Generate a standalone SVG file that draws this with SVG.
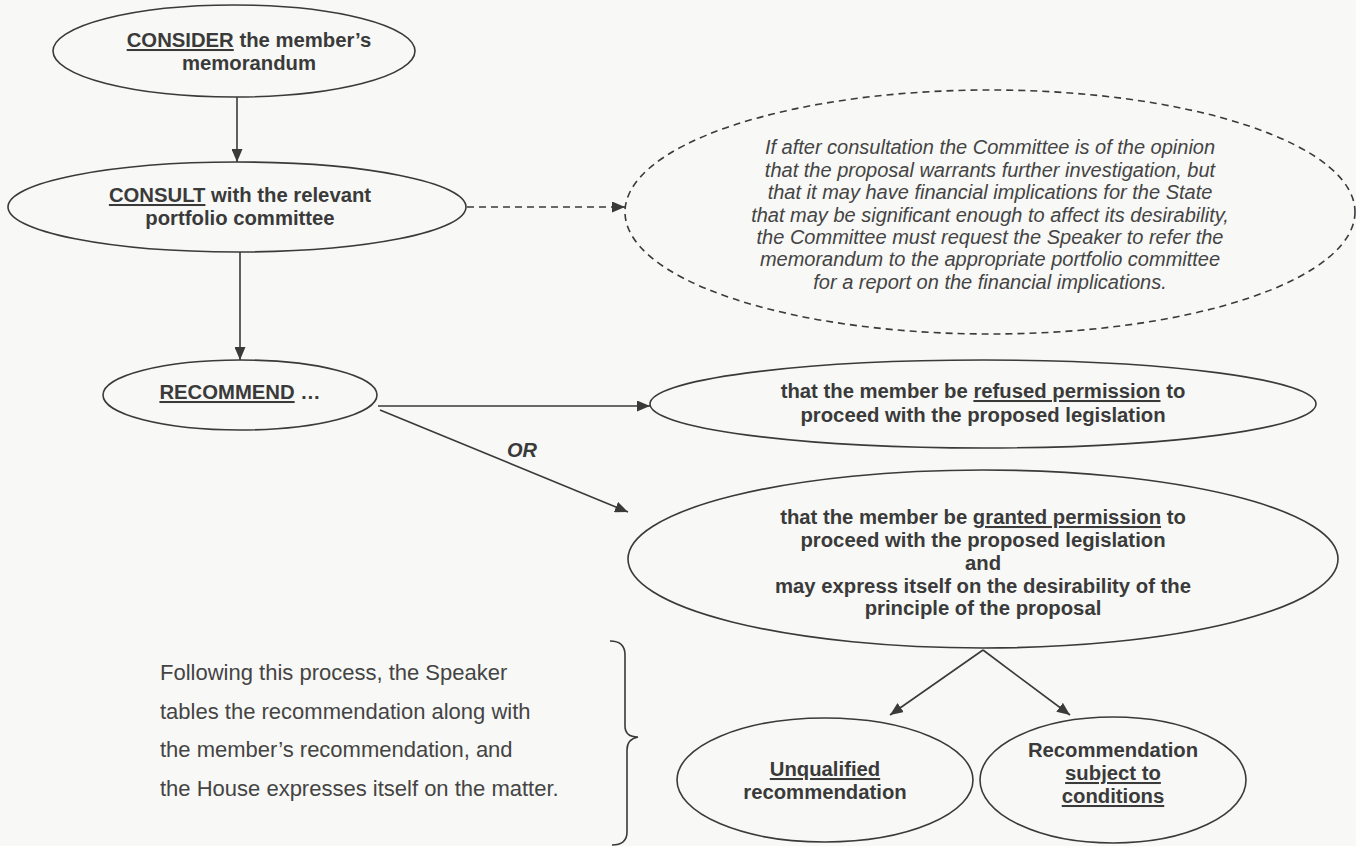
<svg xmlns="http://www.w3.org/2000/svg" width="1356" height="846" viewBox="0 0 1356 846">
<defs>
<style>
.bg{fill:#f8f8f6}
.node{fill:none;stroke:#3a3a3a;stroke-width:1.6}
.dash{fill:none;stroke:#3a3a3a;stroke-width:1.6;stroke-dasharray:7 5}
.b{font-family:"Liberation Sans",Arial,sans-serif;font-weight:bold;font-size:20.3px;fill:#3a3a3a;text-anchor:middle}
.i{font-family:"Liberation Sans",Arial,sans-serif;font-style:italic;font-size:20px;fill:#444;text-anchor:middle}
.p{font-family:"Liberation Sans",Arial,sans-serif;font-size:22px;fill:#444}
.u{text-decoration:underline}
.line{fill:none;stroke:#3a3a3a;stroke-width:1.6}
</style>
<marker id="ah" viewBox="0 0 13 11" refX="13" refY="5.5" markerWidth="13" markerHeight="11" markerUnits="userSpaceOnUse" orient="auto">
<path d="M0,0 L13,5.5 L0,11 Z" fill="#3a3a3a"/>
</marker>
</defs>
<rect class="bg" x="0" y="0" width="1356" height="846"/>

<g id="connectors">
<line class="line" x1="237" y1="97" x2="237" y2="162" marker-end="url(#ah)"/>
<line class="dash" x1="467" y1="207" x2="625" y2="207" marker-end="url(#ah)"/>
<line class="line" x1="240" y1="252" x2="240" y2="360" marker-end="url(#ah)"/>
<line class="line" x1="378" y1="406" x2="650" y2="406" marker-end="url(#ah)"/>
<line class="line" x1="380" y1="410" x2="628" y2="512" marker-end="url(#ah)"/>
<line class="line" x1="983" y1="650" x2="890" y2="715" marker-end="url(#ah)"/>
<line class="line" x1="983" y1="650" x2="1070" y2="715" marker-end="url(#ah)"/>
</g>

<g id="consider">
<ellipse class="node" cx="234" cy="51" rx="181" ry="46"/>
<text class="b" x="249" y="47"><tspan class="u">CONSIDER</tspan> the member’s</text>
<text class="b" x="249" y="70">memorandum</text>
</g>

<g id="consult">
<ellipse class="node" cx="237" cy="207" rx="229" ry="45"/>
<text class="b" x="240" y="202"><tspan class="u">CONSULT</tspan> with the relevant</text>
<text class="b" x="240" y="225">portfolio committee</text>
</g>

<g id="note">
<ellipse class="dash" cx="990" cy="212" rx="365" ry="122"/>
<text class="i" x="990" y="154">If after consultation the Committee is of the opinion</text>
<text class="i" x="990" y="177">that the proposal warrants further investigation, but</text>
<text class="i" x="990" y="199">that it may have financial implications for the State</text>
<text class="i" x="990" y="222">that may be significant enough to affect its desirability,</text>
<text class="i" x="990" y="244">the Committee must request the Speaker to refer the</text>
<text class="i" x="990" y="266">memorandum to the appropriate portfolio committee</text>
<text class="i" x="990" y="289">for a report on the financial implications.</text>
</g>

<g id="recommend">
<ellipse class="node" cx="240" cy="395" rx="137" ry="35"/>
<text class="b" x="240" y="399"><tspan class="u">RECOMMEND</tspan> …</text>
</g>

<g id="or">
<text class="b" x="522" y="457" style="font-style:italic;font-size:20px">OR</text>
</g>

<g id="refused">
<ellipse class="node" cx="983" cy="404" rx="333" ry="44"/>
<text class="b" x="983" y="398">that the member be <tspan class="u">refused permission</tspan> to</text>
<text class="b" x="983" y="422">proceed with the proposed legislation</text>
</g>

<g id="granted">
<ellipse class="node" cx="983" cy="559" rx="355" ry="89"/>
<text class="b" x="983" y="524">that the member be <tspan class="u">granted permission</tspan> to</text>
<text class="b" x="983" y="547">proceed with the proposed legislation</text>
<text class="b" x="983" y="570">and</text>
<text class="b" x="983" y="593">may express itself on the desirability of the</text>
<text class="b" x="983" y="615">principle of the proposal</text>
</g>

<g id="unqualified">
<ellipse class="node" cx="825" cy="780" rx="148" ry="62"/>
<text class="b" x="825" y="776"><tspan class="u">Unqualified</tspan></text>
<text class="b" x="825" y="799">recommendation</text>
</g>

<g id="conditions">
<ellipse class="node" cx="1113" cy="780" rx="133" ry="63"/>
<text class="b" x="1113" y="757">Recommendation</text>
<text class="b" x="1113" y="780"><tspan class="u">subject to</tspan></text>
<text class="b" x="1113" y="803"><tspan class="u">conditions</tspan></text>
</g>

<g id="summary">
<text class="p" x="160" y="680">Following this process, the Speaker</text>
<text class="p" x="160" y="719">tables the recommendation along with</text>
<text class="p" x="160" y="757">the member’s recommendation, and</text>
<text class="p" x="160" y="796">the House expresses itself on the matter.</text>
<path class="line" d="M610,641 Q625,641 625,655 L625,726 Q625,737 638,737 Q627,739 627,750 L627,832 Q627,845 612,845"/>
</g>
</svg>
